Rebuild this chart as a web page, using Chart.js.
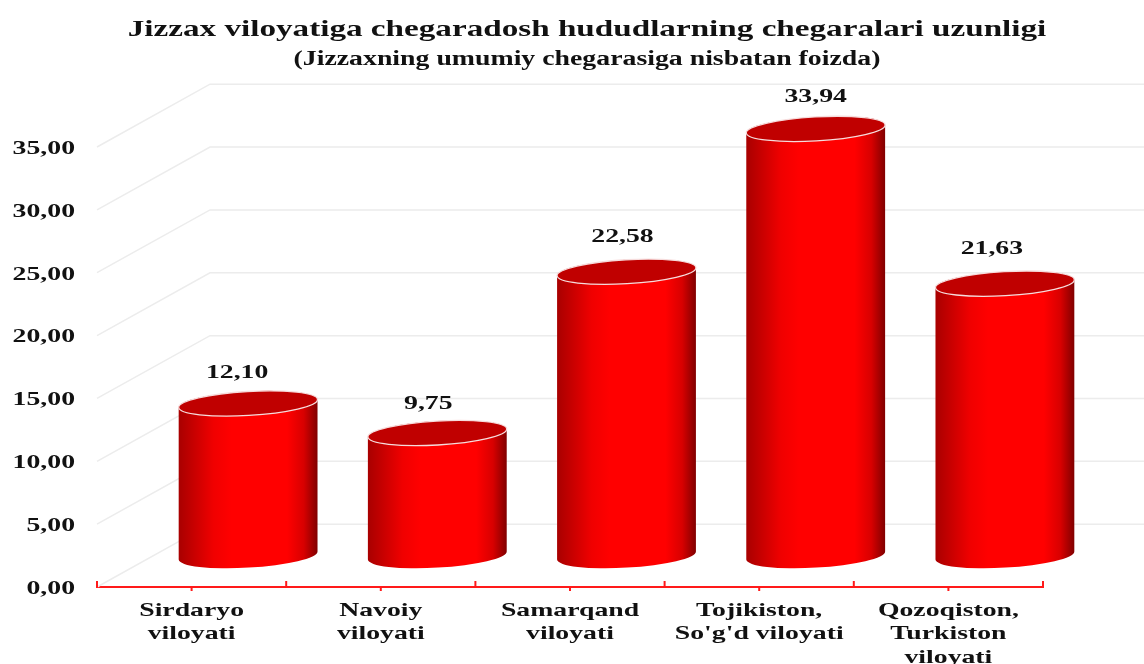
<!DOCTYPE html>
<html>
<head>
<meta charset="utf-8">
<script src="https://cdn.jsdelivr.net/npm/chart.js@4"></script>
<style>
  html, body { margin: 0; padding: 0; background: #fff; overflow: hidden; }
  #wrap { width: 1144px; height: 664px; }
  #cylChart { filter: blur(0.5px); }
</style>
</head>
<body>
<div id="wrap"><canvas id="cylChart" width="1144" height="664"></canvas></div>
<script>
const categories = [
  ["Sirdaryo", "viloyati"],
  ["Navoiy", "viloyati"],
  ["Samarqand", "viloyati"],
  ["Tojikiston,", "So'g'd viloyati"],
  ["Qozoqiston,", "Turkiston", "viloyati"],
];
const shares = [12.10, 9.75, 22.58, 33.94, 21.63];
const titleText = "Jizzax viloyatiga chegaradosh hududlarning chegaralari uzunligi";
const subtitleText = "(Jizzaxning umumiy chegarasiga nisbatan foizda)";

// layout of the fake 3d box, not data
const depthX = 113;
const depthY = 62.8;
const labelNudgeX = [-11, -9, -4, 0, -13];
const labelNudgeY = [-30, -29, -35, -32, -35];
const serif = "'Liberation Serif', serif";
// the reference text is stretched sideways, amount depends on font size
const stretchBySize = { 24: 1.382, 20: 1.39, 19: 1.46 };

function commaFmt(v, digits) {
  return Number(v).toFixed(digits).replace(".", ",");
}

const cylinders = {
  id: "cylinders",
  beforeInit(chart) {
    const ctx = chart.ctx;
    const rawFillText = ctx.fillText.bind(ctx);
    ctx.fillText = (str, x, y) => {
      const size = parseInt(ctx.font.match(/(\d+)px/)[1]);
      ctx.save();
      ctx.translate(x, y);
      ctx.scale(stretchBySize[size] || 1, 1);
      rawFillText(str, 0, 0);
      ctx.restore();
    };
  },
  afterLayout(chart) {
    // title sits a bit right of the canvas centre
    chart.boxes.forEach((b) => {
      if (b.position === "top") {
        b.left = 30;
        b.right = chart.width;
      }
    });
  },
  beforeDatasetsDraw(chart) {
    const { ctx, scales, chartArea } = chart;
    // back wall and side wall lines
    ctx.save();
    ctx.strokeStyle = "#ececec";
    ctx.lineWidth = 1.5;
    scales.y.ticks.forEach((t) => {
      const y = scales.y.getPixelForValue(t.value);
      ctx.beginPath();
      ctx.moveTo(chartArea.left, y);
      ctx.lineTo(chartArea.left + depthX, y - depthY);
      ctx.lineTo(chart.width, y - depthY);
      ctx.stroke();
    });
    // red tick marks on the x axis
    ctx.strokeStyle = "#ff1a1a";
    ctx.lineWidth = 2;
    const n = categories.length;
    for (let i = 0; i <= n; i++) {
      const x = chartArea.left + (chartArea.width * i) / n;
      ctx.beginPath();
      ctx.moveTo(x, chartArea.bottom + 1);
      ctx.lineTo(x, chartArea.bottom - 6);
      ctx.stroke();
      if (i < n) {
        const mid = scales.x.getPixelForValue(i);
        ctx.beginPath();
        ctx.moveTo(mid, chartArea.bottom);
        ctx.lineTo(mid, chartArea.bottom + 4);
        ctx.stroke();
      }
    }
    ctx.restore();
  },
  beforeDatasetDraw() {
    // the plugin paints the bars itself as cylinders
    return false;
  },
  afterDatasetsDraw(chart) {
    const { ctx } = chart;
    const ry = 12;
    const rot = (-3.3 * Math.PI) / 180;
    chart.getDatasetMeta(0).data.forEach((bar, i) => {
      const cx = bar.x + depthX / 2;
      const top = bar.y - depthY / 2;
      const base = bar.base - depthY / 2;
      const rx = bar.width / 2;

      const g = ctx.createLinearGradient(cx - rx, 0, cx + rx, 0);
      g.addColorStop(0, "#a80000");
      g.addColorStop(0.25, "#f00000");
      g.addColorStop(0.38, "#ff0000");
      g.addColorStop(0.78, "#ff0000");
      g.addColorStop(0.9, "#d80000");
      g.addColorStop(1, "#800000");

      ctx.save();
      ctx.beginPath();
      ctx.ellipse(cx, base, rx, ry, rot, 0, Math.PI);
      ctx.ellipse(cx, top, rx, ry, rot, Math.PI, Math.PI * 2);
      ctx.closePath();
      ctx.fillStyle = g;
      ctx.fill();

      ctx.beginPath();
      ctx.ellipse(cx, top, rx, ry, rot, 0, Math.PI * 2);
      ctx.fillStyle = "#c00000";
      ctx.fill();
      ctx.strokeStyle = "#f6dcdc";
      ctx.lineWidth = 1.3;
      ctx.stroke();

      ctx.fillStyle = "#111";
      ctx.font = "bold 19px " + serif;
      ctx.textAlign = "center";
      ctx.textBaseline = "middle";
      ctx.fillText(commaFmt(shares[i], 2), cx + labelNudgeX[i], top + labelNudgeY[i]);
      ctx.restore();
    });
  },
};

new Chart("cylChart", {
  type: "bar",
  data: {
    labels: categories,
    datasets: [
      {
        data: shares,
        backgroundColor: "#ff0000",
        barPercentage: 0.735,
        categoryPercentage: 1,
      },
    ],
  },
  plugins: [cylinders],
  options: {
    responsive: false,
    animation: false,
    layout: { padding: { right: 101 } },
    plugins: {
      legend: { display: false },
      tooltip: { enabled: false },
      title: {
        display: true,
        text: titleText,
        color: "#111",
        font: { family: serif, size: 24, weight: "bold", lineHeight: 1.2 },
        padding: { top: 15, bottom: 0 },
      },
      subtitle: {
        display: true,
        text: subtitleText,
        color: "#111",
        font: { family: serif, size: 20, weight: "bold", lineHeight: 1.2 },
        padding: { top: 4, bottom: 75.2 },
      },
    },
    scales: {
      x: {
        grid: { display: false },
        border: { color: "#ff1a1a", width: 2 },
        afterFit(s) { s.height = 77; },
        ticks: {
          color: "#111",
          padding: 4,
          maxRotation: 0,
          autoSkip: false,
          font: { family: serif, size: 19, weight: "bold", lineHeight: 1.24 },
        },
      },
      y: {
        min: 0,
        max: 35,
        grid: { display: false },
        border: { display: false },
        afterFit(s) { s.width = 97; },
        ticks: {
          stepSize: 5,
          color: "#111",
          padding: 14,
          labelOffset: 2,
          font: { family: serif, size: 19, weight: "bold" },
          callback: (v) => commaFmt(v, 2),
        },
      },
    },
  },
});
</script>
</body>
</html>
